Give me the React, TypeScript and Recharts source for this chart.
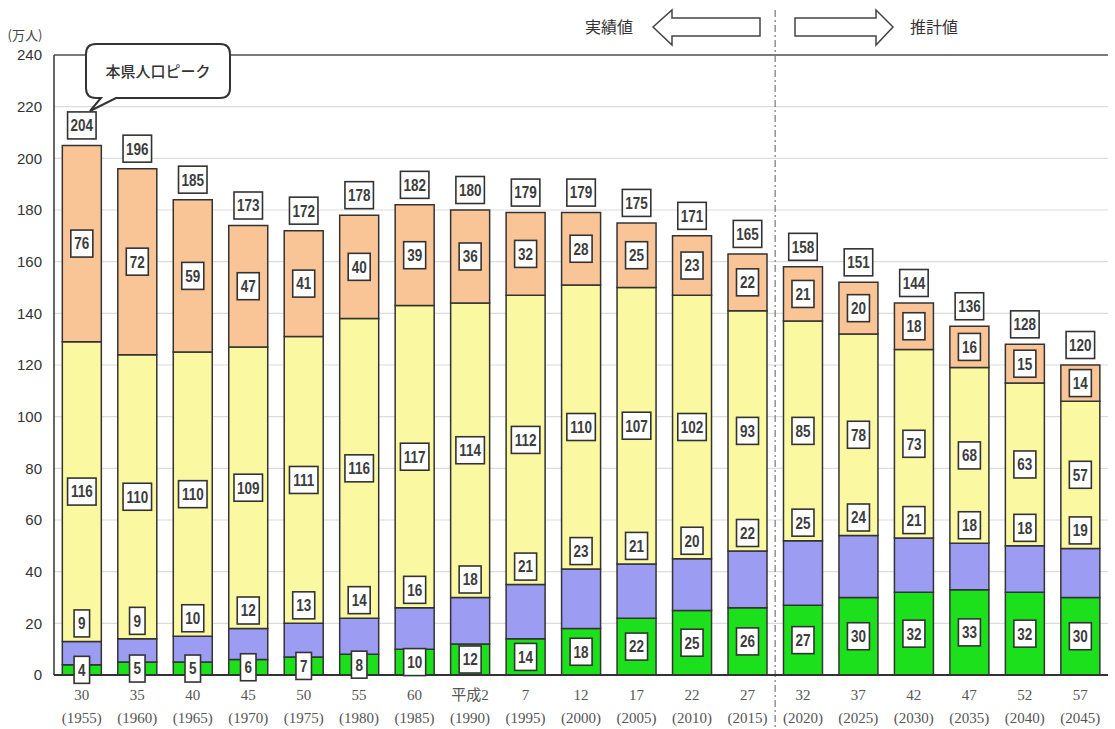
import React from "react";
import { BarChart, Bar, XAxis, YAxis, CartesianGrid, LabelList, ReferenceLine } from "recharts";

const eraLabels = ["30", "35", "40", "45", "50", "55", "60", "平成2", "7", "12", "17", "22", "27", "32", "37", "42", "47", "52", "57"];
const yearLabels = ["(1955)", "(1960)", "(1965)", "(1970)", "(1975)", "(1980)", "(1985)", "(1990)", "(1995)", "(2000)", "(2005)", "(2010)", "(2015)", "(2020)", "(2025)", "(2030)", "(2035)", "(2040)", "(2045)"];
const green = [4, 5, 5, 6, 7, 8, 10, 12, 14, 18, 22, 25, 26, 27, 30, 32, 33, 32, 30];
const purple = [9, 9, 10, 12, 13, 14, 16, 18, 21, 23, 21, 20, 22, 25, 24, 21, 18, 18, 19];
const yellow = [116, 110, 110, 109, 111, 116, 117, 114, 112, 110, 107, 102, 93, 85, 78, 73, 68, 63, 57];
const orange = [76, 72, 59, 47, 41, 40, 39, 36, 32, 28, 25, 23, 22, 21, 20, 18, 16, 15, 14];
const totals = [204, 196, 185, 173, 172, 178, 182, 180, 179, 179, 175, 171, 165, 158, 151, 144, 136, 128, 120];
const yTicks = [0, 20, 40, 60, 80, 100, 120, 140, 160, 180, 200, 220, 240];
const firstProjected = "32";

const rows = eraLabels.map((name, i) => ({
  name,
  green: green[i],
  purple: purple[i],
  yellow: yellow[i],
  orange: orange[i],
}));

const C_GREEN = "#1DE01D";
const C_PURPLE = "#9C9CF2";
const C_YELLOW = "#FAF8A0";
const C_ORANGE = "#F9C596";
const EDGE = "#333";

function Box({ cx, cy, text }: { cx: number; cy: number; text: number | string }) {
  const s = String(text);
  const w = s.length * 6.5 + 9;
  const h = 27;
  return (
    <g>
      <rect x={cx - w / 2} y={cy - h / 2} width={w} height={h} fill="#fff" stroke={EDGE} strokeWidth={1.6} />
      <g transform={`translate(${cx},${cy}) scale(1,1.2)`}>
        <text
          x={0}
          y={0}
          dy="0.36em"
          textAnchor="middle"
          fontSize={13.5}
          fontWeight="bold"
          fill="#3c3c3c"
          fontFamily="'Liberation Sans Narrow','Liberation Sans',Arial,sans-serif"
        >
          {s}
        </text>
      </g>
    </g>
  );
}

const renderLabels = (props: any) => {
  const vb = props.viewBox ?? props;
  const x = Number(vb.x ?? props.x);
  const y = Number(vb.y ?? props.y);
  const w = Number(vb.width ?? props.width);
  const h = Number(vb.height ?? props.height);
  let i = typeof props.index === "number" ? props.index : orange.indexOf(Number(props.value));
  if (i < 0 || !isFinite(x)) return null;
  const ppu = h / orange[i];
  const base = y + h + (yellow[i] + purple[i] + green[i]) * ppu;
  const px = (v: number) => base - v * ppu;
  const cx = x + w / 2;
  return (
    <g>
      <Box cx={cx} cy={px(green[i] / 2)} text={green[i]} />
      <Box cx={cx} cy={px(green[i] + purple[i]) - 18} text={purple[i]} />
      <Box cx={cx} cy={px(green[i] + purple[i] + yellow[i] / 2)} text={yellow[i]} />
      <Box cx={cx} cy={y + h / 2} text={orange[i]} />
      <Box cx={cx} cy={y - 20} text={totals[i]} />
    </g>
  );
};

const XTick = (props: any) => {
  const { x, y, payload } = props;
  const idx = typeof props.index === "number" ? props.index : eraLabels.indexOf(payload.value);
  return (
    <g transform={`translate(${x},${y})`}>
      <text
        textAnchor="middle"
        fill="#555"
        fontSize={15}
        fontFamily="'Liberation Serif','Noto Sans CJK JP',serif"
      >
        <tspan x={0} y={25}>{payload.value}</tspan>
        <tspan x={0} y={48}>{yearLabels[idx]}</tspan>
      </text>
    </g>
  );
};

const Divider = (p: any) => (
  <line
    x1={p.x1}
    x2={p.x2}
    y1={10}
    y2={727}
    stroke="#777"
    strokeWidth={1.2}
    strokeDasharray="7 3 2 3"
  />
);

export default function App() {
  return (
    <div style={{ position: "absolute", left: 0, top: 0, width: 1115, height: 729, background: "#fff" }}>
      <BarChart
        width={1115}
        height={729}
        data={rows}
        margin={{ top: 55, right: 7, left: 0, bottom: 0 }}
        barCategoryGap="15%"
      >
        <CartesianGrid vertical={false} stroke="#dcdcdc" strokeWidth={1.2} />
        <XAxis
          dataKey="name"
          interval={0}
          height={54}
          tickLine={false}
          tickSize={0}
          tickMargin={0}
          axisLine={{ stroke: "#333", strokeWidth: 2 }}
          tick={<XTick />}
        />
        <YAxis
          domain={[0, 240]}
          ticks={yTicks}
          width={54}
          tickLine={false}
          tickSize={0}
          tickMargin={12}
          axisLine={{ stroke: "#333", strokeWidth: 1.5 }}
          tick={{ fill: "#333", fontSize: 15, fontFamily: "'Liberation Sans',Arial,sans-serif" }}
        />
        <YAxis
          yAxisId="frame"
          orientation="right"
          type="number"
          domain={[0, 240]}
          width={0}
          tick={false}
          tickLine={false}
          axisLine={{ stroke: "#555", strokeWidth: 1.5 }}
        />
        <ReferenceLine y={240} stroke="#555" strokeWidth={1.5} />
        <Bar dataKey="green" stackId="a" fill={C_GREEN} stroke={EDGE} strokeWidth={1.5} isAnimationActive={false} />
        <Bar dataKey="purple" stackId="a" fill={C_PURPLE} stroke={EDGE} strokeWidth={1.5} isAnimationActive={false} />
        <Bar dataKey="yellow" stackId="a" fill={C_YELLOW} stroke={EDGE} strokeWidth={1.5} isAnimationActive={false} />
        <Bar dataKey="orange" stackId="a" fill={C_ORANGE} stroke={EDGE} strokeWidth={1.5} isAnimationActive={false}>
          <LabelList dataKey="orange" content={renderLabels} />
        </Bar>
        <ReferenceLine x={firstProjected} position="start" shape={Divider} ifOverflow="visible" />
      </BarChart>
      <svg
        width={1115}
        height={729}
        style={{ position: "absolute", left: 0, top: 0, pointerEvents: "none" }}
      >
        <text x={25} y={40} textAnchor="middle" fontSize={13} fill="#444" fontFamily="'Noto Sans CJK JP',sans-serif">
          (万人)
        </text>
        <path
          d="M 96 44 H 220 Q 230 44 230 54 V 88 Q 230 98 220 98 H 116 L 90 111 L 101 98 H 96 Q 86 98 86 88 V 54 Q 86 44 96 44 Z"
          fill="#fff"
          stroke="#333"
          strokeWidth={2}
        />
        <text x={158} y={72} dy="0.36em" textAnchor="middle" fontSize={15} fontWeight={500} fill="#333" fontFamily="'Noto Sans CJK JP',sans-serif">
          本県人口ピーク
        </text>
        <text x={609} y={27} dy="0.36em" textAnchor="middle" fontSize={16} fill="#333" fontFamily="'Noto Sans CJK JP',sans-serif">
          実績値
        </text>
        <polygon
          points="653,27 672,10 672,18 760,18 760,36 672,36 672,45"
          fill="#fff"
          stroke="#444"
          strokeWidth={1.5}
        />
        <polygon
          points="795,18 876,18 876,10 893,27 876,45 876,36 795,36"
          fill="#fff"
          stroke="#444"
          strokeWidth={1.5}
        />
        <text x={934} y={27} dy="0.36em" textAnchor="middle" fontSize={16} fill="#333" fontFamily="'Noto Sans CJK JP',sans-serif">
          推計値
        </text>
      </svg>
    </div>
  );
}
